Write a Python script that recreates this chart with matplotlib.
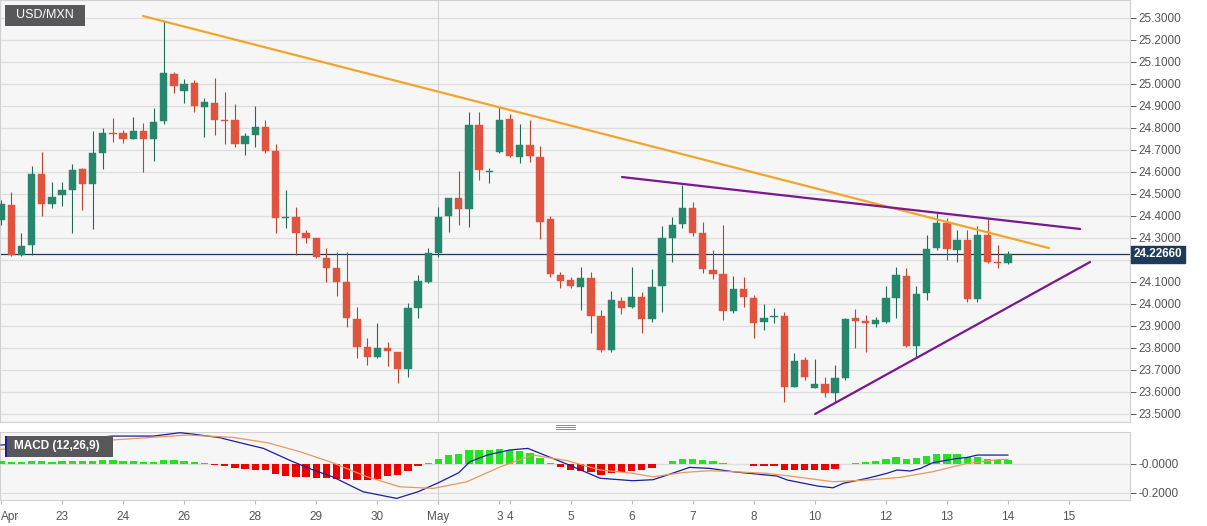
import matplotlib
matplotlib.use("Agg")
import matplotlib.pyplot as plt
from matplotlib.patches import Rectangle
from matplotlib.lines import Line2D
import numpy as np

plt.rcParams["font.family"] = ["Liberation Sans", "DejaVu Sans"]

BG      = "#f6f6f6"
GRID_C  = "#dedede"
SPINE_C = "#d0d0d0"
TXT     = "#555555"
UP      = "#26876d"
UP_W    = "#1f6b57"
DOWN    = "#e0533f"
DOWN_W  = "#b8442f"
NAVY    = "#1d3a5a"
ORANGE  = "#f2a52b"
PURPLE  = "#7a1890"
MACD_C  = "#1c1ca0"
SIG_C   = "#e8995a"
H_UP    = "#22e222"
H_DOWN  = "#ee0000"
W, H = 1207, 526

# ── 4h OHLC, USD/MXN (candle index 0 = 22 Apr 00:00) ──────────────────────────
opens = [24.382, 24.450, 24.223, 24.268, 24.591, 24.455, 24.495, 24.518, 24.614, 24.545,
         24.686, 24.775, 24.777, 24.750, 24.786, 24.750, 24.832, 25.045, 24.968, 25.005,
         24.895, 24.914, 24.838, 24.836, 24.727, 24.768, 24.805, 24.695, 24.392, 24.395,
         24.323, 24.300, 24.209, 24.164, 24.100, 23.932, 23.805, 23.759, 23.800, 23.782,
         23.705, 23.982, 24.100, 24.232, 24.400, 24.482, 24.432, 24.814, 24.600, 24.691,
         24.841, 24.668, 24.723, 24.668, 24.386, 24.132, 24.109, 24.077, 24.118, 23.945,
         23.791, 24.014, 23.986, 24.032, 23.932, 24.082, 24.300, 24.364, 24.436, 24.323,
         24.155, 24.136, 23.968, 24.068, 24.027, 23.918, 23.941, 23.945, 23.623, 23.745,
         23.618, 23.636, 23.595, 23.664, 23.936, 23.923, 23.909, 23.918, 24.027, 24.127,
         23.809, 24.050, 24.255, 24.368, 24.245, 24.291, 24.023, 24.314, 24.191, 24.186]
highs = [24.473, 24.509, 24.323, 24.627, 24.691, 24.555, 24.555, 24.636, 24.618, 24.786,
         24.800, 24.845, 24.791, 24.850, 24.823, 24.891, 25.286, 25.055, 25.023, 25.018,
         24.936, 25.027, 24.964, 24.909, 24.777, 24.900, 24.836, 24.727, 24.518, 24.441,
         24.336, 24.300, 24.255, 24.236, 24.236, 23.986, 23.845, 23.914, 23.827, 23.782,
         24.005, 24.132, 24.255, 24.441, 24.482, 24.605, 24.873, 24.873, 24.618, 24.895,
         24.864, 24.818, 24.836, 24.718, 24.400, 24.145, 24.123, 24.168, 24.145, 23.973,
         24.059, 24.032, 24.168, 24.055, 24.159, 24.355, 24.395, 24.541, 24.464, 24.373,
         24.245, 24.359, 24.127, 24.123, 24.041, 24.000, 23.982, 23.964, 23.777, 23.759,
         23.750, 23.668, 23.723, 23.936, 23.977, 23.950, 23.941, 24.082, 24.168, 24.164,
         24.082, 24.314, 24.414, 24.391, 24.336, 24.336, 24.355, 24.391, 24.268, 24.241]
lows = [24.359, 24.218, 24.218, 24.223, 24.400, 24.436, 24.445, 24.323, 24.427, 24.341,
        24.614, 24.736, 24.732, 24.750, 24.600, 24.650, 24.818, 24.959, 24.914, 24.873,
        24.759, 24.768, 24.727, 24.714, 24.677, 24.714, 24.686, 24.323, 24.345, 24.223,
        24.277, 24.209, 24.100, 24.036, 23.895, 23.755, 23.723, 23.755, 23.718, 23.641,
        23.668, 23.936, 24.095, 24.214, 24.327, 24.359, 24.350, 24.564, 24.550, 24.686,
        24.668, 24.641, 24.645, 24.295, 24.123, 24.073, 24.073, 23.973, 23.868, 23.782,
        23.782, 23.955, 23.982, 23.868, 23.918, 23.964, 24.191, 24.345, 24.309, 24.141,
        24.114, 23.927, 23.959, 23.986, 23.845, 23.882, 23.914, 23.555, 23.623, 23.655,
        23.618, 23.577, 23.555, 23.655, 23.800, 23.782, 23.895, 23.914, 23.936, 23.805,
        23.759, 24.018, 24.245, 24.200, 24.191, 24.009, 24.009, 24.186, 24.164, 24.182]
closes = [24.455, 24.223, 24.264, 24.591, 24.455, 24.486, 24.518, 24.609, 24.545, 24.686,
          24.777, 24.772, 24.750, 24.786, 24.750, 24.827, 25.050, 24.991, 25.000, 24.900,
          24.918, 24.836, 24.834, 24.727, 24.764, 24.805, 24.695, 24.391, 24.396, 24.323,
          24.300, 24.214, 24.164, 24.100, 23.936, 23.805, 23.759, 23.800, 23.786, 23.705,
          23.982, 24.105, 24.232, 24.395, 24.482, 24.432, 24.814, 24.609, 24.602, 24.836,
          24.673, 24.723, 24.673, 24.373, 24.136, 24.105, 24.082, 24.118, 23.945, 23.791,
          24.018, 23.982, 24.032, 23.932, 24.077, 24.300, 24.359, 24.436, 24.323, 24.159,
          24.136, 23.968, 24.068, 24.032, 23.914, 23.936, 23.943, 23.623, 23.741, 23.668,
          23.636, 23.595, 23.664, 23.932, 23.923, 23.914, 23.927, 24.027, 24.132, 23.809,
          24.045, 24.250, 24.368, 24.250, 24.291, 24.023, 24.314, 24.191, 24.186, 24.2266]

# trend lines (candle index, price)
res_main_x = [13.96, 103.05]
res_main_y = [25.309, 24.254]
res_short_x = [61.06, 106.1]
res_short_y = [24.577, 24.341]
sup_x = [80.04, 107.08]
sup_y = [23.500, 24.191]

# MACD (12,26,9)
hist = [0.018, 0.012, 0.009, 0.021, 0.016, 0.014, 0.016, 0.021, 0.016, 0.021,
        0.025, 0.025, 0.018, 0.016, 0.012, 0.012, 0.023, 0.023, 0.021, 0.012,
        0.004, -0.007, -0.018, -0.032, -0.037, -0.041, -0.046, -0.069, -0.083, -0.092,
        -0.092, -0.099, -0.099, -0.106, -0.106, -0.110, -0.110, -0.106, -0.087, -0.075,
        -0.050, -0.018, 0.005, 0.032, 0.057, 0.067, 0.097, 0.097, 0.092, 0.101,
        0.092, 0.085, 0.074, 0.039, 0.003, -0.023, -0.041, -0.048, -0.060, -0.076,
        -0.064, -0.060, -0.053, -0.041, -0.030, -0.003, 0.020, 0.035, 0.035, 0.028,
        0.016, 0.002, -0.002, -0.005, -0.014, -0.014, -0.018, -0.041, -0.041, -0.041,
        -0.046, -0.040, -0.037, -0.003, 0.003, 0.012, 0.020, 0.032, 0.046, 0.032,
        0.037, 0.055, 0.069, 0.067, 0.064, 0.046, 0.044, 0.032, 0.028, 0.023]
macd_x = [0, 11, 15, 17.6, 18.8, 21.5, 23.5, 25.8, 28.7, 30.7, 32.6, 35.6, 38.9, 41,
          43, 45, 46.1, 47.8, 50, 51.8, 53, 55.7, 58.9, 62.1, 64.1, 65.5, 67.7, 69.7,
          72, 76.3, 77.3, 80.3, 81.8, 82.8, 85.2, 87.1, 88.1, 89.4, 90.4, 91.6, 93.6,
          95, 96, 99]
macd_v = [0.129, 0.191, 0.191, 0.214, 0.205, 0.180, 0.145, 0.106, 0.014, -0.043, -0.090,
          -0.193, -0.239, -0.193, -0.131, -0.062, 0.014, 0.060, 0.095, 0.106, 0.072,
          -0.004, -0.100, -0.117, -0.110, -0.078, -0.025, -0.032, -0.055, -0.085, -0.112,
          -0.154, -0.166, -0.135, -0.100, -0.066, -0.043, -0.050, -0.032, 0.007, 0.032,
          0.044, 0.060, 0.060]
sig_x = [0, 11, 18.3, 22.8, 26.2, 29.4, 32.6, 36, 39.2, 42.5, 45.8, 49.1, 52.3, 55.7,
         58.9, 62.1, 64.1, 67.1, 69.7, 72, 75.3, 78.6, 81.8, 85.2, 88.4, 91.6, 95, 98.2, 99]
sig_v = [0.099, 0.164, 0.198, 0.182, 0.145, 0.083, 0.007, -0.090, -0.159, -0.170, -0.124,
         -0.021, 0.060, 0.021, -0.043, -0.066, -0.090, -0.060, -0.048, -0.055, -0.066,
         -0.094, -0.124, -0.112, -0.094, -0.055, 0.003, 0.030, 0.030]

# date axis
day_pos = [0, 6, 12, 18, 25, 31, 37, 43, 49, 50, 56, 62, 68, 74, 80, 87, 93, 99, 105]
day_lbl = ["Apr", "23", "24", "26", "28", "29", "30", "May", "3", "4", "5", "6", "7",
           "8", "10", "12", "13", "14", "15"]
price_ticks = [23.5, 23.6, 23.7, 23.8, 23.9, 24.0, 24.1, 24.2, 24.3, 24.4,
               24.5, 24.6, 24.7, 24.8, 24.9, 25.0, 25.1, 25.2, 25.3]
macd_ticks = [0.0, -0.2]
macd_tick_lbl = ["-0.0000", "-0.2000"]
month_start = 43

# ── Figure & layout ───────────────────────────────────────────────────────────
fig = plt.figure(figsize=(W / 100, H / 100), dpi=100)
fig.patch.set_facecolor("white")
ax = fig.add_axes([0, 1 - 422 / H, 1130 / W, 422 / H])
axm = fig.add_axes([0, 1 - 500 / H, 1130 / W, 68 / H])

for a in (ax, axm):
    a.set_facecolor(BG)
    for s in a.spines.values():
        s.set_edgecolor(SPINE_C)
        s.set_linewidth(0.8)
    a.set_xlim(-0.1, 111.0)
    a.yaxis.tick_right()
    a.tick_params(axis="y", colors=TXT, labelsize=8.5, length=4, width=0.7,
                  pad=2, labelcolor=TXT)
    a.axvline(month_start, color="#cfcfcf", linewidth=0.7, zorder=1)

# ── Candles ───────────────────────────────────────────────────────────────────
idx = np.arange(len(opens))
o = np.array(opens); c = np.array(closes)
hi = np.array(highs); lo = np.array(lows)
up = c >= o
body_col = np.where(up, UP, DOWN)
wick_col = np.where(up, UP_W, DOWN_W)
ax.vlines(idx, lo, hi, colors=wick_col, linewidth=0.8, zorder=3)
ax.bar(idx, np.maximum(np.abs(c - o), 0.004), bottom=np.minimum(o, c), width=0.72,
       color=body_col, edgecolor=body_col, linewidth=0.3, zorder=4)

last = closes[-1]
ax.set_ylim(23.4636, 25.3818)
ax.set_yticks(price_ticks)
# the last-price tag hides the label it sits on
ax.set_yticklabels(["" if abs(v - last) < 0.05 else f"{v:.4f}" for v in price_ticks])
ax.set_xticks([])
ax.grid(axis="y", color=GRID_C, linewidth=0.9, zorder=0)
ax.set_axisbelow(True)

# trend lines
ax.plot(res_main_x, res_main_y, color=ORANGE, linewidth=1.6, zorder=5,
        solid_capstyle="round")
ax.plot(res_short_x, res_short_y, color=PURPLE, linewidth=1.6, zorder=5,
        solid_capstyle="round")
ax.plot(sup_x, sup_y, color=PURPLE, linewidth=1.6, zorder=5, solid_capstyle="round")

# last price line + tag
ax.axhline(last, color=NAVY, linewidth=0.9, zorder=2)
ax.text(1.0035, last, f"{last:.5f}", transform=ax.get_yaxis_transform(),
        ha="left", va="center", fontsize=8.5, fontweight="bold", color="white",
        clip_on=False, zorder=10,
        bbox=dict(boxstyle="square,pad=0.22", facecolor=NAVY, edgecolor=NAVY))

# ── MACD panel ────────────────────────────────────────────────────────────────
hv = np.array(hist)
axm.bar(idx, hv, width=0.72, color=np.where(hv >= 0, H_UP, H_DOWN), zorder=3)
axm.plot(macd_x, macd_v, color=MACD_C, linewidth=0.9, zorder=4)
axm.plot(sig_x, sig_v, color=SIG_C, linewidth=0.9, zorder=4)
axm.set_ylim(-0.25, 0.219)
axm.set_yticks(macd_ticks)
axm.set_yticklabels(macd_tick_lbl)
axm.grid(axis="y", color=GRID_C, linewidth=0.9, zorder=0)
axm.set_axisbelow(True)
axm.set_xticks(day_pos)
axm.set_xticklabels(day_lbl)
axm.tick_params(axis="x", colors="#bbbbbb", labelcolor=TXT, labelsize=8.5,
                length=3, width=0.8, pad=5)
axm.get_xticklabels()[0].set_horizontalalignment("left")

# ── Header boxes ──────────────────────────────────────────────────────────────
def fx(px):
    return px / W

def fy(py):
    return 1 - py / H

fig.add_artist(Rectangle((fx(5), fy(26)), fx(80), 21 / H, transform=fig.transFigure,
                         facecolor="#58585a", edgecolor="none", zorder=20))
fig.text(fx(45), fy(15.5), "USD/MXN", ha="center", va="center", fontsize=9,
         color="white", zorder=21)

fig.add_artist(Rectangle((fx(5), fy(457)), fx(108), 21 / H, transform=fig.transFigure,
                         facecolor="#58585a", edgecolor="none", zorder=20))
fig.add_artist(Rectangle((fx(5), fy(457)), fx(2), 21 / H, transform=fig.transFigure,
                         facecolor=MACD_C, edgecolor="none", zorder=21))
fig.text(fx(57), fy(446.5), "MACD (12,26,9)", ha="center", va="center", fontsize=8.5,
         fontweight="bold", color="white", zorder=21)

# panel grip
for gy in (425, 427, 429):
    fig.add_artist(Line2D([fx(556), fx(575)], [fy(gy), fy(gy)],
                          transform=fig.transFigure, color="#777777", linewidth=0.6))

plt.savefig("out.png", dpi=100, facecolor="white")
